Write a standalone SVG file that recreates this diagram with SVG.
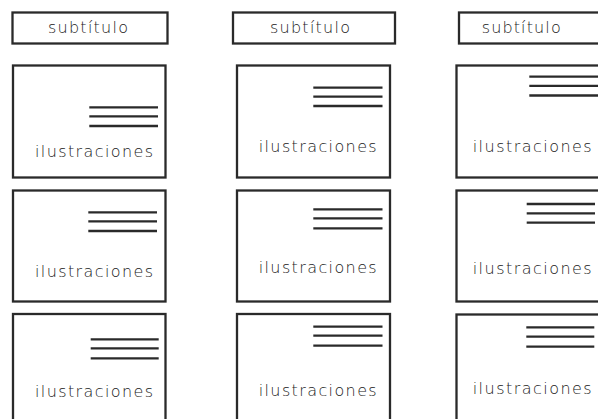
<svg xmlns="http://www.w3.org/2000/svg" width="598" height="419" viewBox="0 0 598 419">
<style>
.box{fill:#fff;stroke:#2a2a2a;stroke-width:2.3}
.ln{stroke:#2a2a2a;stroke-width:2.3}
.st{font-family:"DejaVu Sans",sans-serif;font-size:16px;font-weight:300;fill:#222}
.il{font-family:"DejaVu Sans",sans-serif;font-size:16px;font-weight:300;fill:#222}
</style>
<rect width="598" height="419" fill="#fff"/>
<g id="sub1"><rect class="box" x="12.5" y="12.5" width="155" height="31"/><text class="st" x="48" y="33.3" textLength="80" lengthAdjust="spacing">subtítulo</text></g>
<g id="sub2"><rect class="box" x="233" y="12.5" width="162" height="31"/><text class="st" x="270" y="33.3" textLength="80" lengthAdjust="spacing">subtítulo</text></g>
<g id="sub3"><rect class="box" x="459" y="12.5" width="150" height="31"/><text class="st" x="481.7" y="33.3" textLength="79" lengthAdjust="spacing">subtítulo</text></g>

<g id="c1r1"><rect class="box" x="13" y="65.5" width="152.5" height="112"/><line class="ln" x1="89.3" y1="107.3" x2="158" y2="107.3"/><line class="ln" x1="89.3" y1="116.3" x2="158" y2="116.3"/><line class="ln" x1="89.3" y1="126" x2="158" y2="126"/><text class="il" x="35" y="157.3" textLength="118" lengthAdjust="spacing">ilustraciones</text></g>
<g id="c1r2"><rect class="box" x="13" y="190.5" width="152.5" height="111"/><line class="ln" x1="88.3" y1="212.3" x2="157" y2="212.3"/><line class="ln" x1="88.3" y1="221.3" x2="157" y2="221.3"/><line class="ln" x1="88.3" y1="231" x2="157" y2="231"/><text class="il" x="35" y="276.7" textLength="118" lengthAdjust="spacing">ilustraciones</text></g>
<g id="c1r3"><rect class="box" x="13" y="314" width="152.5" height="112"/><line class="ln" x1="90.7" y1="339.3" x2="158.7" y2="339.3"/><line class="ln" x1="90.7" y1="348.3" x2="158.7" y2="348.3"/><line class="ln" x1="90.7" y1="358.3" x2="158.7" y2="358.3"/><text class="il" x="35" y="397" textLength="118" lengthAdjust="spacing">ilustraciones</text></g>

<g id="c2r1"><rect class="box" x="237" y="65.5" width="153" height="112"/><line class="ln" x1="313.3" y1="87.7" x2="382.5" y2="87.7"/><line class="ln" x1="313.3" y1="96.7" x2="382.5" y2="96.7"/><line class="ln" x1="313.3" y1="106" x2="382.5" y2="106"/><text class="il" x="258.7" y="151.7" textLength="118" lengthAdjust="spacing">ilustraciones</text></g>
<g id="c2r2"><rect class="box" x="237" y="190.5" width="153" height="111"/><line class="ln" x1="313.3" y1="209.3" x2="382.5" y2="209.3"/><line class="ln" x1="313.3" y1="218.3" x2="382.5" y2="218.3"/><line class="ln" x1="313.3" y1="228.3" x2="382.5" y2="228.3"/><text class="il" x="258.7" y="272.7" textLength="118" lengthAdjust="spacing">ilustraciones</text></g>
<g id="c2r3"><rect class="box" x="237" y="314" width="153" height="112"/><line class="ln" x1="313.3" y1="326.7" x2="382.5" y2="326.7"/><line class="ln" x1="313.3" y1="335.7" x2="382.5" y2="335.7"/><line class="ln" x1="313.3" y1="345.7" x2="382.5" y2="345.7"/><text class="il" x="258.7" y="396" textLength="118" lengthAdjust="spacing">ilustraciones</text></g>

<g id="c3r1"><rect class="box" x="456.5" y="65.5" width="153" height="112"/><line class="ln" x1="529.3" y1="76.7" x2="598" y2="76.7"/><line class="ln" x1="529.3" y1="85.8" x2="598" y2="85.8"/><line class="ln" x1="529.3" y1="95.5" x2="598" y2="95.5"/><text class="il" x="472.7" y="151.7" textLength="119" lengthAdjust="spacing">ilustraciones</text></g>
<g id="c3r2"><rect class="box" x="456.5" y="190.5" width="153" height="111"/><line class="ln" x1="526.7" y1="204" x2="595" y2="204"/><line class="ln" x1="526.7" y1="213.3" x2="595" y2="213.3"/><line class="ln" x1="526.7" y1="222.7" x2="595" y2="222.7"/><text class="il" x="472.7" y="274" textLength="119" lengthAdjust="spacing">ilustraciones</text></g>
<g id="c3r3"><rect class="box" x="456.5" y="314.5" width="153" height="112"/><line class="ln" x1="526.3" y1="327.3" x2="594.3" y2="327.3"/><line class="ln" x1="526.3" y1="336.7" x2="594.3" y2="336.7"/><line class="ln" x1="526.3" y1="346.7" x2="594.3" y2="346.7"/><text class="il" x="472.7" y="394" textLength="119" lengthAdjust="spacing">ilustraciones</text></g>
</svg>
